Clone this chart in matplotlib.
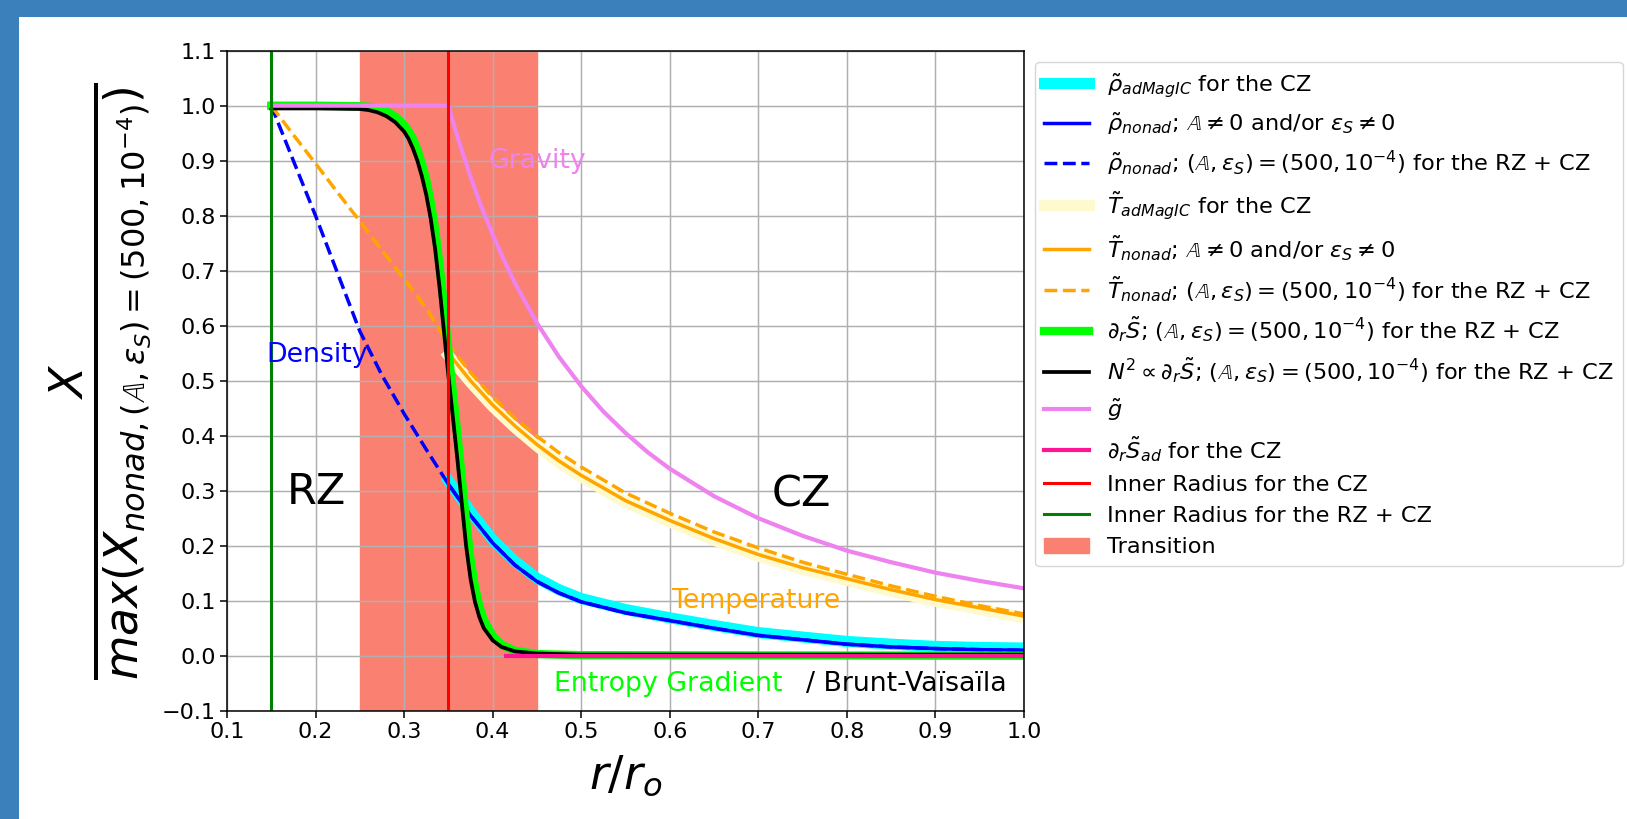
import numpy as np
import matplotlib.pyplot as plt
from matplotlib.patches import Rectangle

# radius in the RZ part (before the inner radius of the CZ)
r_inner = [0.15, 0.175, 0.2, 0.225, 0.25, 0.275, 0.3, 0.325]
rho_inner = [1.0, 0.90, 0.80, 0.695, 0.59, 0.51, 0.44, 0.375]
temp_inner = [1.0, 0.947, 0.895, 0.842, 0.79, 0.737, 0.685, 0.632]

# radius in the CZ
r_cz = [0.35, 0.375, 0.4, 0.425, 0.45, 0.475, 0.5, 0.55, 0.6, 0.65, 0.7,
        0.75, 0.8, 0.85, 0.9, 0.95, 1.0]
rho_ad = [0.318, 0.262, 0.211, 0.172, 0.141, 0.12, 0.104, 0.084, 0.069,
          0.055, 0.042, 0.034, 0.026, 0.021, 0.017, 0.015, 0.014]
rho_nonad = [0.312, 0.255, 0.205, 0.165, 0.135, 0.114, 0.098, 0.078, 0.064,
             0.05, 0.037, 0.029, 0.021, 0.016, 0.013, 0.011, 0.010]
temp_ad = [0.546, 0.497, 0.453, 0.415, 0.381, 0.351, 0.325, 0.279, 0.243,
           0.21, 0.181, 0.157, 0.137, 0.117, 0.099, 0.084, 0.069]
temp_nonad = [0.55, 0.50, 0.456, 0.418, 0.384, 0.354, 0.328, 0.282, 0.246,
              0.213, 0.184, 0.16, 0.14, 0.12, 0.102, 0.087, 0.072]
temp_full_cz = [0.566, 0.515, 0.47, 0.432, 0.399, 0.369, 0.343, 0.296, 0.259,
                0.225, 0.196, 0.17, 0.148, 0.127, 0.108, 0.091, 0.076]

# gravity
r_grav = [0.15, 0.35, 0.355, 0.36, 0.365, 0.375, 0.385, 0.4, 0.41, 0.425,
          0.45, 0.475, 0.5, 0.525, 0.55, 0.575, 0.6, 0.65, 0.7, 0.75, 0.8,
          0.85, 0.9, 0.95, 1.0]
grav = [1.0, 1.0, 0.972, 0.945, 0.92, 0.871, 0.826, 0.766, 0.729, 0.678,
        0.605, 0.543, 0.49, 0.444, 0.405, 0.37, 0.34, 0.29, 0.25, 0.218, 0.191,
        0.17, 0.151, 0.136, 0.1225]

# entropy gradient / Brunt-Vaisala
r_s = [0.15, 0.2, 0.25, 0.26, 0.27, 0.28, 0.29, 0.3, 0.305, 0.31, 0.315, 0.32,
       0.325, 0.33, 0.335, 0.34, 0.345, 0.35, 0.355, 0.36, 0.365, 0.37, 0.375,
       0.38, 0.385, 0.39, 0.4, 0.41, 0.425, 0.45, 0.5, 1.0]
dsdr = [1.0, 1.0, 0.999, 0.998, 0.995, 0.99, 0.98, 0.965, 0.954, 0.94, 0.92,
        0.895, 0.865, 0.825, 0.775, 0.71, 0.635, 0.555, 0.48, 0.405, 0.325,
        0.245, 0.175, 0.125, 0.09, 0.065, 0.036, 0.02, 0.009, 0.003, 0.001, 0.0]
n2 = [0.995, 0.995, 0.994, 0.992, 0.988, 0.981, 0.97, 0.953, 0.94, 0.922, 0.9,
      0.872, 0.838, 0.795, 0.74, 0.67, 0.59, 0.51, 0.435, 0.36, 0.28, 0.2,
      0.14, 0.098, 0.07, 0.05, 0.028, 0.016, 0.008, 0.004, 0.002, 0.002]

r_sad = [0.415, 1.0]
dsdr_ad = [0.0, 0.0]

r_in_cz = 0.35
r_in_rzcz = 0.15
transition = (0.25, 0.45)

fig = plt.figure(figsize=(16.27, 8.19), dpi=100)
fig.patch.set_facecolor('#3b80bb')
fig.patches.append(Rectangle((19 / 1627, 0), 1, 1 - 17 / 819, transform=fig.transFigure,
                             facecolor='white', edgecolor='none', zorder=-1))
ax = fig.add_axes([0.1395, 0.1322, 0.4899, 0.8059])

lab_A = r'$(\mathbb{A}, \varepsilon_S) = (500, 10^{-4})$ for the RZ + CZ'
ax.plot(r_cz, rho_ad, color='cyan', lw=8, label=r'$\tilde{\rho}_{adMagIC}$ for the CZ')
ax.plot(r_cz, rho_nonad, color='blue', lw=2.5,
        label=r'$\tilde{\rho}_{nonad}$; $\mathbb{A} \neq 0$ and/or $\varepsilon_S \neq 0$')
ax.plot(r_inner + r_cz, rho_inner + rho_nonad, '--', color='blue', lw=2.5,
        label=r'$\tilde{\rho}_{nonad}$; ' + lab_A)
ax.plot(r_cz, temp_ad, color='lemonchiffon', lw=8, label=r'$\tilde{T}_{adMagIC}$ for the CZ')
ax.plot(r_cz, temp_nonad, color='orange', lw=2.5,
        label=r'$\tilde{T}_{nonad}$; $\mathbb{A} \neq 0$ and/or $\varepsilon_S \neq 0$')
ax.plot(r_inner + r_cz, temp_inner + temp_full_cz, '--', color='orange', lw=2.5,
        label=r'$\tilde{T}_{nonad}$; ' + lab_A)
ax.plot(r_s, dsdr, color='lime', lw=6, label=r'$\partial_r \tilde{S}$; ' + lab_A)
ax.plot(r_s, n2, color='black', lw=2.7, label=r'$N^2 \propto \partial_r \tilde{S}$; ' + lab_A)
ax.plot(r_grav, grav, color='violet', lw=3, label=r'$\tilde{g}$')
ax.plot(r_sad, dsdr_ad, color='deeppink', lw=3, label=r'$\partial_r \tilde{S}_{ad}$ for the CZ')
ax.axvline(r_in_cz, color='red', lw=2.2, label='Inner Radius for the CZ')
ax.axvline(r_in_rzcz, color='green', lw=2.2, label='Inner Radius for the RZ + CZ')
ax.axvspan(transition[0], transition[1], color='salmon', label='Transition')

ax.text(0.168, 0.276, 'RZ', fontsize=31)
ax.text(0.715, 0.272, 'CZ', fontsize=31)
ax.text(0.145, 0.534, 'Density', fontsize=19.3, color='blue')
ax.text(0.395, 0.887, 'Gravity', fontsize=19.3, color='violet')
ax.text(0.601, 0.086, 'Temperature', fontsize=19.3, color='orange')
ax.text(0.469, -0.064, 'Entropy Gradient', fontsize=19.3, color='lime')
ax.text(0.7535, -0.064, '/ Brunt-Vaïsaïla', fontsize=19.3, color='black')

ax.set_xlim(0.1, 1.0)
ax.set_ylim(-0.1, 1.1)
ax.set_xticks(np.arange(0.1, 1.01, 0.1))
ax.set_yticks(np.arange(-0.1, 1.11, 0.1))
ax.tick_params(labelsize=16, length=4.7, width=1.1)
for s in ax.spines.values():
    s.set_linewidth(1.1)
ax.grid(True, lw=1.07)
ax.set_xlabel(r'$r/r_o$', fontsize=33, labelpad=8)
ax.set_ylabel(r'$\frac{X}{max(X_{nonad, (\mathbb{A}, \varepsilon_S) = (500, 10^{-4})})}$', fontsize=47)
ax.yaxis.set_label_coords(-0.092, 0.5)

ax.legend(loc='upper left', bbox_to_anchor=(1.0, 1.0), fontsize=16.2)

fig.savefig('out.png', dpi=100)
